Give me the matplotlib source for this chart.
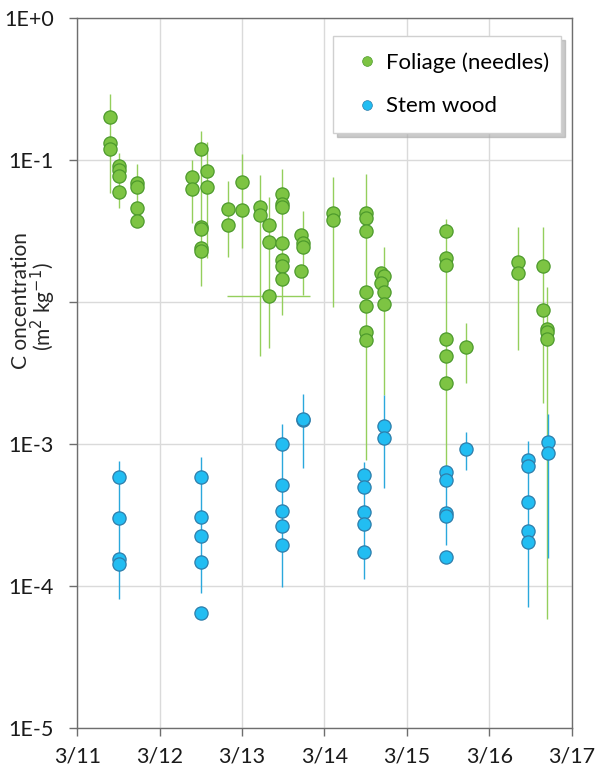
import matplotlib
matplotlib.use("Agg")
import matplotlib.pyplot as plt
from matplotlib.lines import Line2D

# ---------------- data ----------------
x_ticks = [11, 12, 13, 14, 15, 16, 17]
x_tick_labels = ["3/11", "3/12", "3/13", "3/14", "3/15", "3/16", "3/17"]
y_ticks = [1e-5, 1e-4, 1e-3, 1e-2, 1e-1, 1e0]
# the 1E-2 label is hidden behind the axis title in the original
y_tick_labels = ["1E-5", "1E-4", "1E-3", "", "1E-1", "1E+0"]

foliage_x = [11.397, 11.397, 11.397,
             11.502, 11.502, 11.502, 11.502,
             11.721, 11.721, 11.721, 11.721,
             12.388, 12.388,
             12.498, 12.498, 12.498, 12.498, 12.498,
             12.574, 12.574,
             12.829, 12.829,
             12.995, 12.995,
             13.214, 13.214,
             13.326, 13.326, 13.326,
             13.488, 13.488, 13.488, 13.488, 13.488, 13.488, 13.488,
             13.711, 13.735, 13.735, 13.711,
             14.099, 14.099,
             14.500, 14.500, 14.500, 14.500, 14.500, 14.500, 14.500,
             14.686, 14.726, 14.686, 14.726, 14.726,
             15.471, 15.471, 15.471, 15.471, 15.471, 15.471,
             15.721,
             16.352, 16.352,
             16.648, 16.655, 16.704, 16.704, 16.704]
foliage_y = [0.201, 0.132, 0.119,
             0.0907, 0.0851, 0.0776, 0.0595,
             0.0685, 0.0642, 0.0461, 0.0370,
             0.0759, 0.0625,
             0.120, 0.0339, 0.0327, 0.0241, 0.0230,
             0.0837, 0.0642,
             0.0454, 0.0350,
             0.0704, 0.0445,
             0.0467, 0.0410,
             0.0350, 0.0266, 0.0110,
             0.0574, 0.0488, 0.0469, 0.0259, 0.0197, 0.0180, 0.0145,
             0.0296, 0.0259, 0.0245, 0.0166,
             0.0421, 0.0378,
             0.0421, 0.0388, 0.0316, 0.0118, 0.00941, 0.00618, 0.00540,
             0.0159, 0.0152, 0.0137, 0.0118, 0.00964,
             0.0315, 0.0203, 0.0182, 0.00549, 0.00418, 0.00268,
             0.00480,
             0.0191, 0.0159,
             0.0179, 0.00879, 0.00646, 0.00618, 0.00549]

# foliage error bars (x, low, high)
foliage_bar_x = [11.397, 11.502, 11.721, 12.388, 12.498, 12.574, 12.829, 12.995,
                 13.214, 13.326, 13.488, 13.735, 14.099, 14.500, 14.720, 15.471,
                 15.721, 16.352, 16.648, 16.704]
foliage_bar_lo = [0.0583, 0.0459, 0.0348, 0.0358, 0.0130, 0.0203, 0.0209, 0.0241,
                  0.00417, 0.00472, 0.00810, 0.0112, 0.00927, 7.71e-4, 2.21e-3, 6.56e-4,
                  0.00268, 0.00459, 1.94e-3, 5.83e-5]
foliage_bar_hi = [0.292, 0.112, 0.0937, 0.100, 0.160, 0.135, 0.0711, 0.110,
                  0.0784, 0.0551, 0.0860, 0.0437, 0.0755, 0.0797, 0.0245, 0.0384,
                  0.00708, 0.0339, 0.0339, 0.0128]
# horizontal error bar of one foliage point
foliage_xbar_y = [0.0110]
foliage_xbar_lo = [12.813]
foliage_xbar_hi = [13.824]

stem_x = [11.502, 11.502, 11.502, 11.502,
          12.498, 12.498, 12.498, 12.498, 12.498,
          13.484, 13.484, 13.484, 13.484, 13.484,
          13.739, 13.739,
          14.483, 14.483, 14.483, 14.483, 14.483,
          14.726, 14.726,
          15.471, 15.471, 15.471, 15.471, 15.471,
          15.721,
          16.470, 16.470, 16.470, 16.470, 16.470,
          16.709, 16.709]
stem_y = [5.86e-4, 3.01e-4, 1.54e-4, 1.42e-4,
          5.86e-4, 3.05e-4, 2.25e-4, 1.47e-4, 6.49e-5,
          1.00e-3, 5.14e-4, 3.39e-4, 2.66e-4, 1.94e-4,
          1.47e-3, 1.49e-3,
          6.02e-4, 5.00e-4, 3.34e-4, 2.73e-4, 1.74e-4,
          1.34e-3, 1.10e-3,
          6.38e-4, 5.58e-4, 3.28e-4, 3.13e-4, 1.61e-4,
          9.18e-4,
          7.71e-4, 7.00e-4, 3.88e-4, 2.43e-4, 2.03e-4,
          1.04e-3, 8.69e-4]
stem_bar_x = [11.502, 12.498, 13.484, 13.739, 14.483, 14.726, 15.471, 15.721, 16.470, 16.709]
stem_bar_lo = [8.06e-5, 8.89e-5, 9.89e-5, 6.74e-4, 1.12e-4, 4.88e-4, 1.94e-4, 6.56e-4, 7.08e-5, 1.57e-4]
stem_bar_hi = [7.63e-4, 8.06e-4, 1.38e-3, 2.25e-3, 7.43e-4, 2.21e-3, 6.56e-4, 1.21e-3, 1.05e-3, 1.64e-3]

# ---------------- style ----------------
green_fill = "#7DC443"
green_edge = "#4D9A2C"
green_bar = "#94CF5C"
blue_fill = "#22BDF2"
blue_edge = "#2E7DAA"
blue_bar = "#2AA8DC"
axis_col = "#6E6E6E"

fig = plt.figure(figsize=(5.97, 7.74), dpi=100)
ax = fig.add_axes([0.1295, 0.0594, 0.8281, 0.9173])

ax.set_yscale("log")
ax.set_xlim(11, 17)
ax.set_ylim(1e-5, 1e0)

ax.grid(True, which="major", color="#DADADA", linewidth=1.0, zorder=0)
ax.set_axisbelow(True)

# error bars
ax.vlines(foliage_bar_x, foliage_bar_lo, foliage_bar_hi, color=green_bar, linewidth=1.0, zorder=2)
ax.hlines(foliage_xbar_y, foliage_xbar_lo, foliage_xbar_hi, color=green_bar, linewidth=1.0, zorder=2)
ax.plot(foliage_x, foliage_y, linestyle="none", marker="o", markersize=9.5,
        markerfacecolor=green_fill, markeredgecolor=green_edge, markeredgewidth=0.9, zorder=3)
ax.vlines(stem_bar_x, stem_bar_lo, stem_bar_hi, color=blue_bar, linewidth=1.0, zorder=4)
ax.plot(stem_x, stem_y, linestyle="none", marker="o", markersize=9.5,
        markerfacecolor=blue_fill, markeredgecolor=blue_edge, markeredgewidth=0.9, zorder=5)

# ticks
ax.set_xticks(x_ticks)
ax.set_xticklabels(x_tick_labels)
ax.set_yticks(y_ticks)
ax.set_yticklabels(y_tick_labels)
ax.minorticks_off()
ax.tick_params(axis="both", direction="out", length=6, width=1, color=axis_col,
               labelsize=15.5, labelcolor="#1A1A1A")
ax.tick_params(axis="y", pad=11)
ax.tick_params(axis="x", pad=7)
for lab in ax.get_xticklabels() + ax.get_yticklabels():
    lab.set_family("Lato")

for s in ax.spines.values():
    s.set_color(axis_col)
    s.set_linewidth(1.0)

# y label (two lines)
fig.text(0.035, 0.612, "C oncentration", rotation=90, ha="center", va="center",
         fontsize=15, family="Lato", color="#262626")
fig.text(0.073, 0.604, "(m$^{2}$ kg$^{-1}$)", rotation=90, ha="center", va="center",
         fontsize=15, family="Lato", color="#262626")

# legend
handles = [Line2D([], [], linestyle="none", marker="o", markersize=7,
                  markerfacecolor=green_fill, markeredgecolor=green_edge, markeredgewidth=0.5),
           Line2D([], [], linestyle="none", marker="o", markersize=7,
                  markerfacecolor=blue_fill, markeredgecolor=blue_edge, markeredgewidth=0.5)]
leg = ax.legend(handles, ["Foliage (needles)", "Stem wood"],
                loc="upper left", bbox_to_anchor=(0.517, 0.975, 0.461, 0.0), mode="expand",
                prop={"family": "Lato", "size": 16}, fancybox=False,
                frameon=True, edgecolor="#D0D0D0", framealpha=1.0,
                shadow={"color": "#A8A8A8", "alpha": 0.6, "ox": 3, "oy": -3},
                borderpad=0.75, labelspacing=1.05, handlelength=1.58, handletextpad=0.05,
                borderaxespad=0.0)
leg.set_zorder(10)

fig.savefig("out.png", dpi=100)
